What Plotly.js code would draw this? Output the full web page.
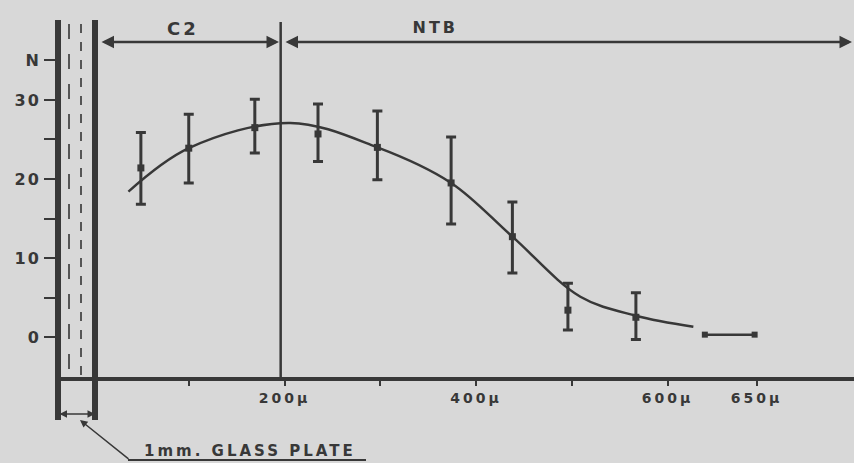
<!DOCTYPE html>
<html>
<head>
<meta charset="utf-8">
<script src="https://cdn.plot.ly/plotly-3.0.1.min.js"></script>
<style>
html,body{margin:0;padding:0;background:#d8d8d8;}
#chart{width:854px;height:463px;}
#chart .xtick text{letter-spacing:3px;}
#chart .ytick text{letter-spacing:2px;}
#chart .annotation-text{letter-spacing:3px;}
</style>
</head>
<body>
<div id="chart"></div>
<script>
// Measured points (distance from glass plate in microns, count N)
const depthX = [50, 100, 169, 235, 297, 374, 438, 496, 567];
const nMean  = [21.4, 23.9, 26.5, 25.7, 24.0, 19.5, 12.7, 3.4, 2.5];
const nUpper = [25.9, 28.2, 30.1, 29.5, 28.6, 25.3, 17.1, 6.8, 5.6];
const nLower = [16.8, 19.5, 23.3, 22.2, 19.9, 14.3, 8.1, 0.9, -0.3];
// Fitted smooth curve
const fitX = [37, 100, 206, 297, 374, 438, 509, 567, 627];
const fitN = [18.4, 23.9, 27.1, 24.0, 19.5, 12.7, 5.1, 2.7, 1.3];
// Zero-count points
const zeroX = [639, 691];
const zeroN = [0.3, 0.3];
// Axis ticks
const xTickVals = [100, 200, 300, 400, 500, 600, 693];
const xTickText = ['', '200\u03bc', '', '400\u03bc', '', '600\u03bc', '650\u03bc'];
const yTickVals = [0, 5, 10, 15, 20, 25, 30, 35];
const yTickText = ['0', '', '10', '', '20', '', '30', 'N'];
const boundaryX = 196;
const zoneLabels = ['C2', 'NTB'];
const plateLabel = '1mm. GLASS PLATE';

const ink = '#383838';
const L = 58, T = 22, W = 796, H = 355;
const px = x => (x - L) / W;
const py = y => (T + H - y) / H;
const fnt = {family: 'DejaVu Sans, Liberation Sans, sans-serif', color: ink, weight: 'bold'};
const txt = (x, y, text, size) => ({xref: 'paper', yref: 'paper', x: px(x), y: py(y), xanchor: 'center', yanchor: 'middle',
  text: text, showarrow: false, font: Object.assign({size: size}, fnt)});
const arrow = (x0, x1, y, w, both) => ({xref: 'paper', yref: 'paper', x: px(x1), y: py(y), ax: x0 - x1, ay: 0, text: '',
  showarrow: true, arrowhead: 2, startarrowhead: 2, arrowside: both ? 'end+start' : 'end', arrowwidth: w, arrowcolor: ink, arrowsize: 1});

const traces = [
  {x: fitX, y: fitN, mode: 'lines', line: {shape: 'spline', smoothing: 1, color: ink, width: 2.5}, hoverinfo: 'skip'},
  {x: depthX, y: nMean, mode: 'markers', marker: {symbol: 'square', size: 7, color: ink},
   error_y: {type: 'data', symmetric: false,
     array: nUpper.map((u, i) => u - nMean[i]),
     arrayminus: nMean.map((m, i) => m - nLower[i]),
     color: ink, thickness: 3, width: 5}},
  {x: zeroX, y: zeroN, mode: 'lines+markers', marker: {symbol: 'square', size: 6, color: ink},
   line: {color: ink, width: 2.5}}
];

const shapes = [
  {type: 'line', xref: 'x', yref: 'paper', x0: boundaryX, x1: boundaryX, y0: 0, y1: 1, line: {color: ink, width: 2.5}},
  {type: 'line', xref: 'paper', yref: 'paper', x0: px(58), x1: px(58), y0: py(20), y1: py(420), line: {color: ink, width: 6}},
  {type: 'line', xref: 'paper', yref: 'paper', x0: px(95), x1: px(95), y0: py(20), y1: py(420), line: {color: ink, width: 6}},
  {type: 'line', xref: 'paper', yref: 'paper', x0: px(69), x1: px(69), y0: py(24), y1: py(376), line: {color: '#555', width: 2, dash: 'longdash'}},
  {type: 'line', xref: 'paper', yref: 'paper', x0: px(81), x1: px(81), y0: py(24), y1: py(376), line: {color: '#555', width: 2, dash: 'dash'}},
  {type: 'line', xref: 'paper', yref: 'paper', x0: px(128), x1: px(366), y0: py(460), y1: py(460), line: {color: ink, width: 2}}
];

const annotations = [
  txt(183, 29, zoneLabels[0], 18),
  txt(435, 28, zoneLabels[1], 16),
  arrow(100, 279, 42, 2.5, true),
  arrow(284, 852, 42, 2.5, true),
  arrow(58, 95, 414, 1.5, true),
  {xref: 'paper', yref: 'paper', x: px(80), y: py(420), ax: 130 - 80, ay: 460 - 420, text: '', showarrow: true,
   arrowhead: 2, arrowwidth: 1.5, arrowcolor: ink, arrowsize: 1},
  txt(250, 451, plateLabel, 15)
];

const layout = {
  width: 854, height: 463,
  margin: {l: L, r: 0, t: T, b: 463 - T - H},
  paper_bgcolor: '#d8d8d8', plot_bgcolor: '#d8d8d8',
  showlegend: false,
  xaxis: {range: [(L - 93) / 0.9575, (854 - 93) / 0.9575], showgrid: false, zeroline: false,
    showline: true, linecolor: ink, linewidth: 4, tickmode: 'array', tickvals: xTickVals, ticktext: xTickText,
    ticks: 'outside', ticklen: 5, tickwidth: 2, tickcolor: ink, tickfont: Object.assign({size: 14}, fnt), fixedrange: true},
  yaxis: {range: [-5.06, 39.87], showgrid: false, zeroline: false, showline: false,
    tickmode: 'array', tickvals: yTickVals, ticktext: yTickText,
    ticks: 'outside', ticklen: 13, tickwidth: 2, tickcolor: ink, tickfont: Object.assign({size: 16}, fnt), fixedrange: true},
  shapes: shapes,
  annotations: annotations
};

Plotly.newPlot('chart', traces, layout, {displayModeBar: false, staticPlot: true});
</script>
</body>
</html>
